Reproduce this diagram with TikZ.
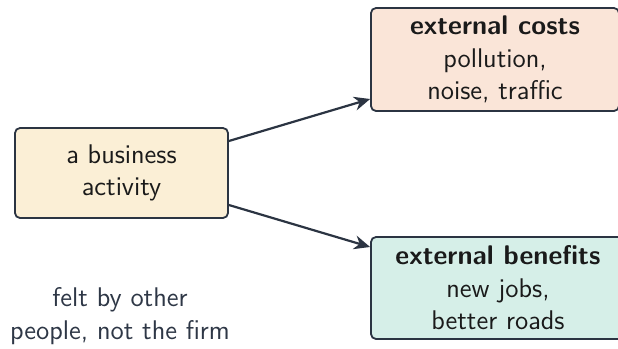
\documentclass[tikz,border=0pt]{standalone}
\usetikzlibrary{arrows.meta}
\definecolor{edge}{HTML}{2B3442}
\definecolor{ink}{HTML}{1A1A1A}
\definecolor{note}{HTML}{2E3746}
\definecolor{fillA}{HTML}{FBEFD6}
\definecolor{fillB}{HTML}{FAE5D8}
\definecolor{fillC}{HTML}{D6EFE8}
\begin{document}
\begin{tikzpicture}[x=0.5pt,y=-0.5pt,
  every node/.style={font=\sffamily\fontsize{13.5}{16.2}\selectfont, text=ink},
  boxstyle/.style={draw=edge, line width=0.9pt, rounded corners=2.5pt, align=center, inner sep=0pt},
  conn/.style={draw=edge, line width=1.1pt, -{Stealth[length=8pt,width=7pt]}}]
\useasboundingbox (0,0) rectangle (618,349);
\node[boxstyle, fill=fillA, minimum width=106.5pt, minimum height=45pt] (act) at (121.5,173) {a business\\activity};
\node[boxstyle, fill=fillB, minimum width=124pt, minimum height=51.5pt] (cost) at (495,59.5) {\textbf{external costs}\\pollution,\\noise, traffic};
\node[boxstyle, fill=fillC, minimum width=127pt, minimum height=51pt] (ben) at (498,288) {\textbf{external benefits}\\new jobs,\\better roads};
\node[align=center, text=note] (felt) at (120,316) {felt by other\\people, not the firm};
\draw[conn] ([yshift=16pt]act.east) -- ([yshift=-19.75pt]cost.west);
\draw[conn] ([yshift=-16pt]act.east) -- ([yshift=20.5pt]ben.west);
\end{tikzpicture}
\end{document}
